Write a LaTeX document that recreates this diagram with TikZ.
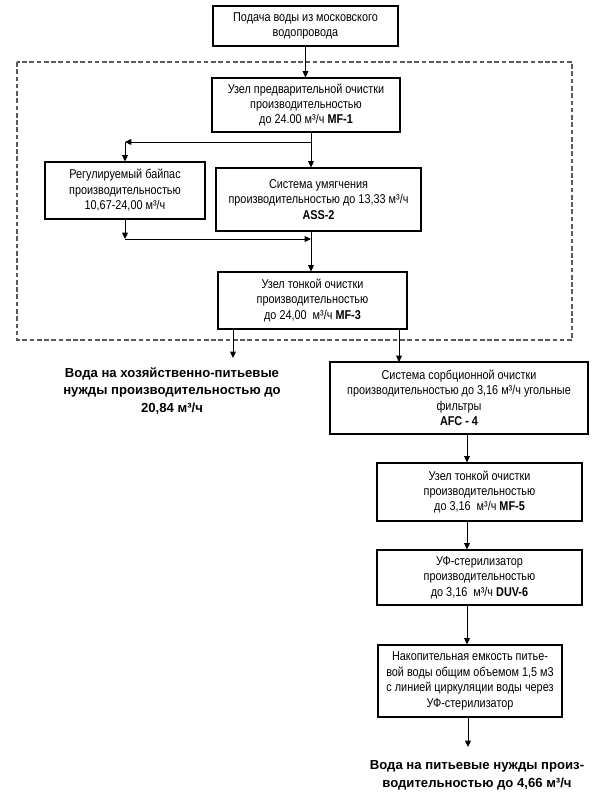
\documentclass[tikz,border=0pt]{standalone}
\usepackage{fontspec}
\setmainfont{Liberation Sans}[FakeStretch=0.85]
\newfontfamily\widefont{Liberation Sans}
\usepackage{xcolor}
\usepackage{tikz}
\usetikzlibrary{arrows.meta,calc,positioning}
\definecolor{frame}{RGB}{90,90,90}

\begin{document}
\begin{tikzpicture}[
  x=0.03cm, y=-0.03cm,
  font=\fontsize{10.9}{13.2}\selectfont,
  box/.style={draw, line width=0.9pt, align=center, inner sep=1pt},
  outtext/.style={align=center, font=\widefont\bfseries\fontsize{11.2}{15}\selectfont},
  arr/.style={-{Triangle[length=5.5pt,width=5pt]}, line width=0.8pt},
  zone/.style={draw=frame, line width=0.9pt, dash pattern=on 4pt off 2.2pt}
]
\useasboundingbox (0,0) rectangle (600,800);
\draw[zone] (17,62) rectangle (572,340);
\node[box, minimum width=5.55cm, minimum height=1.2cm] (supply) at (305.5,26) {Подача воды из московского\\водопровода};
\node[box, minimum width=5.64cm, minimum height=1.62cm] (pre) at (306,105) {Узел предварительной очистки\\производительностью\\до 24.00 м³/ч \textbf{MF-1}};
\node[box, minimum width=4.8cm, minimum height=1.71cm] (bypass) at (125,190.5) {Регулируемый байпас\\производительностью\\10,67-24,00 м³/ч};
\node[box, minimum width=6.15cm, minimum height=1.89cm] (soft) at (318.5,199.5) {Система умягчения\\производительностью до 13,33 м³/ч\\\textbf{ASS-2}};
\node[box, minimum width=5.67cm, minimum height=1.71cm] (fine) at (312.5,300.5) {Узел тонкой очистки\\производительностью\\до 24,00~ м³/ч \textbf{MF-3}};
\node[outtext] (house) at (172,391) {Вода на хозяйственно-питьевые\\нужды производительностью до\\20,84 м³/ч};
\node[box, minimum width=7.74cm, minimum height=2.16cm] (sorb) at (459,398) {Система сорбционной очистки\\производительностью до 3,16 м³/ч угольные\\фильтры\\\textbf{AFC - 4}};
\node[box, minimum width=6.15cm, minimum height=1.74cm] (micro) at (479.5,492) {Узел тонкой очистки\\производительностью\\до 3,16~ м³/ч \textbf{MF-5}};
\node[box, minimum width=6.15cm, minimum height=1.65cm] (uv) at (479.5,577.5) {УФ-стерилизатор\\производительностью\\до 3,16~ м³/ч \textbf{DUV-6}};
\node[box, minimum width=5.52cm, minimum height=2.16cm] (tank) at (470,681) {Накопительная емкость питье-\\вой воды общим объемом 1,5 м3\\с линией циркуляции воды через\\УФ-стерилизатор};
\node[outtext] (drink) at (477,775) {Вода на питьевые нужды произ-\\водительностью до 4,66 м³/ч};
\coordinate (split) at (311,142);
\coordinate (merge) at (311,239);
\coordinate (houseIn) at (233,358);
\coordinate (sorbIn) at (399,362);
\coordinate (axis) at (467,0);
\coordinate (drinkIn) at (468,747);
\draw[arr] (supply.south) -- (supply.south |- pre.north);
\draw[line width=0.8pt] (pre.south -| split) -- (split);
\draw[arr] (split) -- (bypass.north |- split);
\draw[arr] (bypass.north |- split) -- (bypass.north);
\draw[arr] (split) -- (split |- soft.north);
\draw[arr] (bypass.south) -- (bypass.south |- merge);
\draw[arr] (bypass.south |- merge) -- (merge);
\draw[arr] (soft.south -| merge) -- (merge |- fine.north);
\draw[arr] (houseIn |- fine.south) -- (houseIn);
\draw[arr] (sorbIn |- fine.south) -- (sorbIn);
\draw[arr] (sorb.south -| axis) -- (axis |- micro.north);
\draw[arr] (micro.south -| axis) -- (axis |- uv.north);
\draw[arr] (uv.south -| axis) -- (axis |- tank.north);
\draw[arr] (tank.south -| drinkIn) -- (drinkIn);
\end{tikzpicture}
\end{document}
